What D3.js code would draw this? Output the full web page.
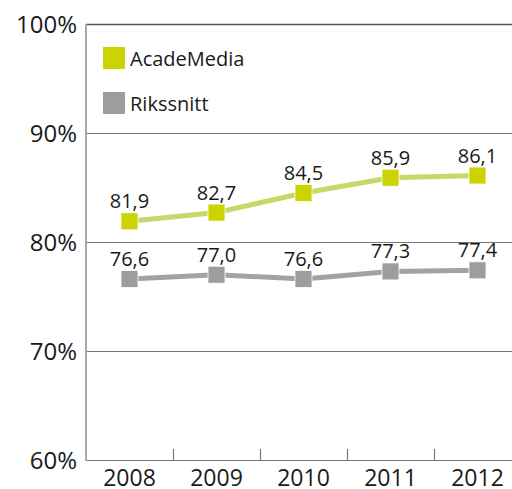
<!DOCTYPE html>
<html>
<head>
<meta charset="utf-8">
<script src="https://cdn.jsdelivr.net/npm/d3@7"></script>
<style>
  body { margin: 0; background: #fff; }
  text { font-family: "Open Sans", "DejaVu Sans", sans-serif; fill: #1a1a1a; }
</style>
</head>
<body>
<svg id="chart" width="512" height="489"></svg>
<script>
var years = ["2008", "2009", "2010", "2011", "2012"];
var acadeMedia = [81.9, 82.7, 84.5, 85.9, 86.1];
var rikssnitt = [76.6, 77.0, 76.6, 77.3, 77.4];
var yTicks = [60, 70, 80, 90, 100];
var seriesNames = ["AcadeMedia", "Rikssnitt"];

(function(){
  var svg = d3.select("#chart");

  var plotLeft = 86, plotRight = 521, plotTop = 24, plotBottom = 460;

  var x = d3.scaleBand().domain(years).range([plotLeft, plotRight]).padding(0);
  var y = d3.scaleLinear().domain([60, 100]).range([plotBottom, plotTop]);

  // grid lines
  svg.selectAll(".grid")
    .data(yTicks)
    .enter().append("line")
    .attr("x1", plotLeft)
    .attr("x2", 512)
    .attr("y1", function(d){ return Math.round(y(d)) + 0.5; })
    .attr("y2", function(d){ return Math.round(y(d)) + 0.5; })
    .style("stroke", function(d){ return d == 100 ? "#555" : "#777"; })
    .style("stroke-width", function(d){ return d == 100 ? 1.5 : 1.2; });

  // y labels
  svg.selectAll(".ylab")
    .data(yTicks)
    .enter().append("text")
    .attr("x", 77)
    .attr("y", function(d){ return y(d) + 9; })
    .attr("text-anchor", "end")
    .attr("font-size", 24)
    .text(function(d){ return d + "%"; });

  // left axis line
  svg.append("line")
    .attr("x1", plotLeft).attr("x2", plotLeft)
    .attr("y1", plotTop).attr("y2", plotBottom + 1)
    .style("stroke", "#aaa")
    .style("stroke-width", 2);

  // x ticks between categories
  svg.selectAll(".xtick")
    .data(years.slice(1))
    .enter().append("line")
    .attr("x1", function(d){ return Math.round(x(d)) + 0.5; })
    .attr("x2", function(d){ return Math.round(x(d)) + 0.5; })
    .attr("y1", plotBottom - 11)
    .attr("y2", plotBottom)
    .style("stroke", "#777")
    .style("stroke-width", 1.2);

  // x labels
  svg.selectAll(".xlab")
    .data(years)
    .enter().append("text")
    .attr("x", function(d){ return x(d) + x.bandwidth() / 2; })
    .attr("y", 486)
    .attr("text-anchor", "middle")
    .attr("font-size", 23)
    .text(function(d){ return d; });

  var series = [
    { name: seriesNames[0], values: acadeMedia, line: "#c6d867", mark: "#cbd300" },
    { name: seriesNames[1], values: rikssnitt, line: "#a2a2a3", mark: "#9d9d9e" }
  ];

  var line = d3.line()
    .x(function(d, i){ return x(years[i]) + x.bandwidth() / 2; })
    .y(function(d){ return y(d); });

  series.forEach(function(s){
    svg.append("path")
      .attr("d", line(s.values))
      .style("fill", "none")
      .style("stroke", s.line)
      .style("stroke-width", 5);

    svg.selectAll(null)
      .data(s.values)
      .enter().append("rect")
      .attr("x", function(d, i){ return x(years[i]) + x.bandwidth() / 2 - 8.5; })
      .attr("y", function(d){ return y(d) - 8.5; })
      .attr("width", 17)
      .attr("height", 17)
      .style("fill", s.mark)
      .style("stroke", "#fff")
      .style("stroke-width", 0.8);

    svg.selectAll(null)
      .data(s.values)
      .enter().append("text")
      .attr("x", function(d, i){ return x(years[i]) + x.bandwidth() / 2; })
      .attr("y", function(d){ return y(d) - 13; })
      .attr("text-anchor", "middle")
      .attr("font-size", 20)
      .text(function(d){ return d.toFixed(1).replace(".", ","); });
  });

  // legend
  series.forEach(function(s, i){
    svg.append("rect")
      .attr("x", 103)
      .attr("y", 47 + i * 45)
      .attr("width", 22)
      .attr("height", 22)
      .style("fill", s.mark);
    svg.append("text")
      .attr("x", 130)
      .attr("y", 66 + i * 45)
      .attr("font-size", 20)
      .text(s.name);
  });
})();
</script>
</body>
</html>
